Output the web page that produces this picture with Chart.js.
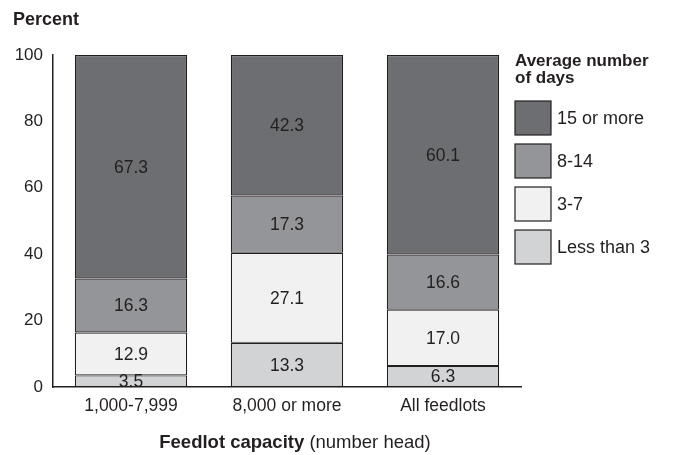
<!DOCTYPE html>
<html>
<head>
<meta charset="utf-8">
<script src="https://cdn.jsdelivr.net/npm/chart.js@4/dist/chart.umd.min.js"></script>
<style>
  html, body { margin: 0; padding: 0; background: #fff; }
  #wrap { width: 678px; height: 455px; position: relative; }
</style>
</head>
<body>
<div id="wrap"><canvas id="myChart"></canvas></div>
<script>
// data
const categories = ['1,000-7,999', '8,000 or more', 'All feedlots'];
const seriesNames = ['Less than 3', '3-7', '8-14', '15 or more'];
const lessThan3 = [3.5, 13.3, 6.3];
const days3to7 = [12.9, 27.1, 17.0];
const days8to14 = [16.3, 17.3, 16.6];
const days15plus = [67.3, 42.3, 60.1];
const yTicks = [0, 20, 40, 60, 80, 100];

const colors = ['#d1d3d4', '#f1f1f2', '#939598', '#6d6e71'];
const ink = '#231f20';
const fontFam = '"Liberation Sans", Arial, sans-serif';

const datasets = [lessThan3, days3to7, days8to14, days15plus].map((vals, i) => ({
    label: seriesNames[i],
    data: vals,
    backgroundColor: colors[i],
    borderColor: ink,
    borderWidth: 1.2,
    borderSkipped: false,
    categoryPercentage: 1,
    barPercentage: 0.72
}));

// numbers inside the bar pieces
const valueLabels = {
    id: 'valueLabels',
    afterDatasetsDraw(chart) {
        const ctx = chart.ctx;
        ctx.save();
        ctx.font = '17.5px ' + fontFam;
        ctx.fillStyle = ink;
        ctx.textAlign = 'center';
        ctx.textBaseline = 'middle';
        chart.data.datasets.forEach((ds, i) => {
            chart.getDatasetMeta(i).data.forEach((bar, j) => {
                const mid = (bar.y + bar.base) / 2;
                ctx.fillText(ds.data[j].toFixed(1), bar.x, mid + 1);
            });
        });
        ctx.restore();
    }
};

// titles and the legend on the right
const extras = {
    id: 'extras',
    afterDraw(chart) {
        const ctx = chart.ctx;
        const area = chart.chartArea;
        ctx.save();
        ctx.fillStyle = ink;
        ctx.textBaseline = 'alphabetic';
        ctx.textAlign = 'left';

        ctx.font = 'bold 18px ' + fontFam;
        ctx.fillText('Percent', 13, 25);

        // x axis title, bold part + normal part
        const boldPart = 'Feedlot capacity';
        const normPart = ' (number head)';
        ctx.font = 'bold 18.5px ' + fontFam;
        const w1 = ctx.measureText(boldPart).width;
        ctx.font = '18.5px ' + fontFam;
        const w2 = ctx.measureText(normPart).width;
        const cx = (area.left + area.right) / 2;
        let x0 = cx - (w1 + w2) / 2 + 8;
        ctx.font = 'bold 18.5px ' + fontFam;
        ctx.fillText(boldPart, x0, 448);
        ctx.font = '18.5px ' + fontFam;
        ctx.fillText(normPart, x0 + w1, 448);

        // legend
        const lx = 515;
        ctx.font = 'bold 17px ' + fontFam;
        ctx.fillText('Average number', lx, 66);
        ctx.fillText('of days', lx, 83);
        ctx.font = '18px ' + fontFam;
        ctx.textBaseline = 'middle';
        const dsList = chart.data.datasets.slice().reverse();
        dsList.forEach((ds, k) => {
            const by = 101 + k * 43;
            ctx.fillStyle = ds.backgroundColor;
            ctx.fillRect(lx, by, 36, 34);
            ctx.strokeStyle = ink;
            ctx.lineWidth = 1.2;
            ctx.strokeRect(lx, by, 36, 34);
            ctx.fillStyle = ink;
            ctx.fillText(ds.label, lx + 42, by + 18);
        });
        ctx.restore();
    }
};

const ctx = document.getElementById('myChart').getContext('2d');
const myChart = new Chart(ctx, {
    type: 'bar',
    data: {
        labels: categories,
        datasets: datasets
    },
    options: {
        responsive: true,
        maintainAspectRatio: false,
        animation: false,
        layout: {
            padding: { top: 55, right: 157, left: 0, bottom: 0 }
        },
        plugins: {
            legend: { display: false },
            tooltip: { enabled: false }
        },
        scales: {
            x: {
                stacked: true,
                grid: { display: false, drawTicks: false },
                border: { display: true, color: ink, width: 1.5 },
                ticks: {
                    color: ink,
                    font: { size: 17.5, family: fontFam },
                    padding: 9
                },
                afterFit(scale) { scale.height = 68; }
            },
            y: {
                stacked: true,
                min: 0,
                max: 100,
                afterBuildTicks(scale) {
                    scale.ticks = yTicks.map(v => ({ value: v }));
                },
                grid: { display: false, drawTicks: false },
                border: { display: true, color: ink, width: 1.5 },
                ticks: {
                    color: ink,
                    font: { size: 17, family: fontFam },
                    padding: 10
                },
                afterFit(scale) { scale.width = 53; }
            }
        }
    },
    plugins: [valueLabels, extras]
});
</script>
</body>
</html>
